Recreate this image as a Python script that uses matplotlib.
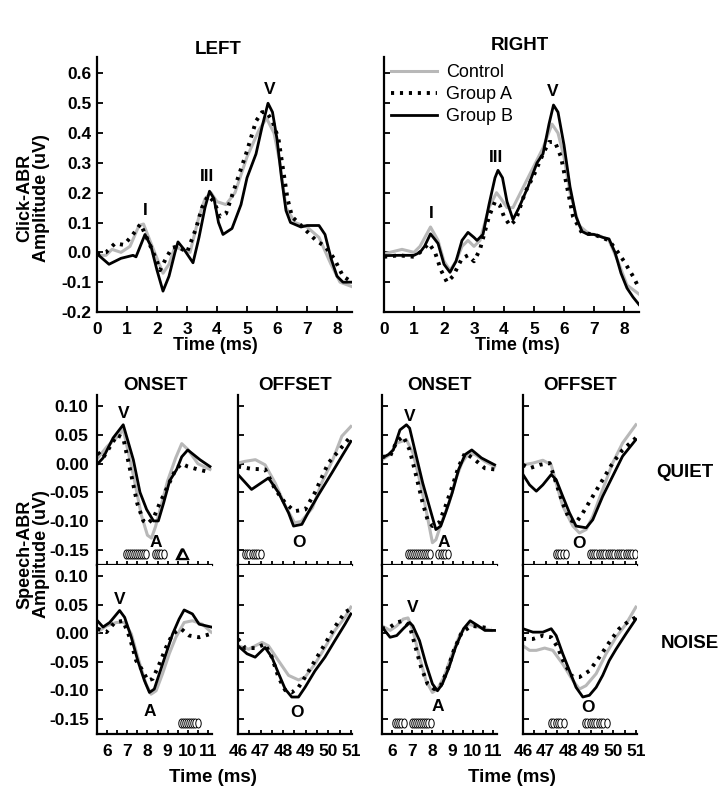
import numpy as np
import matplotlib.pyplot as plt
from matplotlib.path import Path
from matplotlib.transforms import Affine2D

plt.rcParams['font.family'] = ['Liberation Sans', 'DejaVu Sans']
plt.rcParams['font.weight'] = 'bold'
plt.rcParams['axes.labelweight'] = 'bold'
plt.rcParams['axes.linewidth'] = 1.6

W, H = 727, 797
GRAY = '#b8b8b8'

# ---- Click-ABR, left ear ----
cl_ctrl_t = [0, .3, .5, .8, 1.1, 1.4, 1.55, 1.8, 2.0, 2.2, 2.4, 2.6, 2.8, 3.1, 3.4, 3.6, 3.8, 4.0, 4.3,
             4.6, 5.0, 5.4, 5.65, 5.9, 6.1, 6.3, 6.6, 7.0, 7.4, 7.8, 8.1, 8.5]
cl_ctrl_v = [-.01, -.01, .01, 0, .02, .09, .095, .03, -.02, -.07, -.04, .02, .01, 0, .12, .18, .2, .17, .16,
             .2, .32, .41, .45, .4, .3, .15, .1, .085, .05, -.04, -.1, -.115]
cl_a_t = [0, .3, .6, .9, 1.2, 1.45, 1.7, 2.0, 2.1, 2.3, 2.5, 2.7, 3.0, 3.3, 3.5, 3.7, 3.9, 4.1, 4.3, 4.6,
          5.0, 5.3, 5.5, 5.65, 5.85, 6.05, 6.2, 6.35, 6.5, 6.8, 7.0, 7.3, 7.6, 7.9, 8.2, 8.5]
cl_a_v = [-.005, 0, .03, .025, .06, .095, .04, -.03, -.06, -.02, .015, .02, 0, .08, .15, .19, .17, .12, .13, .22,
          .34, .44, .47, .47, .44, .38, .28, .18, .12, .09, .07, .04, .02, -.02, -.08, -.10]
cl_b_t = [0, .4, .8, 1.2, 1.3, 1.6, 1.8, 2.0, 2.2, 2.4, 2.6, 2.7, 2.9, 3.2, 3.4, 3.6, 3.75, 3.9, 4.05, 4.2,
          4.5, 4.8, 5.0, 5.3, 5.5, 5.7, 5.85, 6.0, 6.15, 6.3, 6.45, 6.8, 7.0, 7.4, 7.6, 7.8, 8.0, 8.2, 8.5]
cl_b_v = [-.005, -.04, -.02, -.01, -.015, .06, .02, -.06, -.13, -.08, 0, .035, .01, -.035, .05, .15, .205, .18,
          .10, .06, .08, .16, .25, .33, .42, .50, .47, .38, .25, .14, .10, .085, .09, .09, .06, -.02, -.08, -.10, -.10]

# ---- Click-ABR, right ear ----
cr_ctrl_t = [0, .6, 1.0, 1.2, 1.55, 1.8, 2.0, 2.2, 2.4, 2.6, 2.8, 3.0, 3.2, 3.5, 3.75, 3.9, 4.1, 4.3, 4.6,
             5.0, 5.3, 5.6, 5.8, 6.0, 6.2, 6.5, 6.8, 7.2, 7.5, 7.8, 8.1, 8.5]
cr_ctrl_v = [-.005, .01, 0, .02, .085, .04, -.03, -.06, -.03, .02, .04, .02, .04, .15, .2, .18, .15, .15, .21,
             .29, .35, .43, .4, .32, .2, .09, .065, .055, .04, -.03, -.11, -.14]
cr_a_t = [0, .5, 1.0, 1.2, 1.5, 1.7, 1.9, 2.1, 2.3, 2.6, 2.8, 3.0, 3.2, 3.5, 3.7, 3.85, 4.0, 4.2, 4.4, 4.7,
          5.0, 5.3, 5.5, 5.7, 5.9, 6.1, 6.3, 6.6, 7.0, 7.5, 7.8, 8.0, 8.3, 8.5]
cr_a_v = [-.015, -.01, -.015, 0, .03, 0, -.06, -.10, -.08, -.02, -.01, -.03, .01, .12, .17, .16, .12, .09, .11, .20,
          .26, .33, .37, .37, .32, .22, .12, .065, .06, .04, 0, -.03, -.08, -.12]
cr_b_t = [0, .5, 1.0, 1.2, 1.35, 1.55, 1.8, 2.0, 2.2, 2.4, 2.6, 2.8, 3.0, 3.1, 3.3, 3.5, 3.7, 3.8, 3.95, 4.1,
          4.3, 4.5, 4.8, 5.1, 5.3, 5.5, 5.65, 5.8, 6.0, 6.2, 6.4, 6.6, 6.8, 7.0, 7.3, 7.5, 7.7, 7.9, 8.1, 8.3, 8.5]
cr_b_v = [-.011, -.01, -.01, 0, .02, .062, .03, -.04, -.067, -.03, .04, .067, .05, .04, .06, .16, .25, .275, .25, .17,
          .11, .15, .22, .30, .33, .43, .494, .47, .36, .22, .12, .07, .06, .06, .05, .045, 0, -.07, -.12, -.15, -.175]

# ---- Speech-ABR, quiet ----
ql_on_ctrl_t = [5.54, 6.0, 6.6, 6.8, 7.3, 7.7, 8.0, 8.2, 8.4, 8.7, 9.0, 9.4, 9.7, 10.0, 10.5, 11.1]
ql_on_ctrl_v = [.01, .03, .05, .06, -.02, -.09, -.125, -.13, -.11, -.07, -.03, .01, .035, .025, 0, -.01]
ql_on_a_t = [5.54, 5.8, 6.5, 6.8, 7.2, 7.5, 7.8, 8.0, 8.3, 8.6, 9.0, 9.4, 9.7, 10.0, 10.5, 11.1]
ql_on_a_v = [.02, .01, .05, .045, -.02, -.07, -.10, -.105, -.095, -.07, -.04, -.01, 0, -.005, -.01, -.015]
ql_on_b_t = [5.54, 5.8, 6.3, 6.8, 7.3, 7.63, 7.96, 8.3, 8.54, 8.8, 9.1, 9.45, 9.7, 10.0, 10.6, 11.1]
ql_on_b_v = [0, .01, .045, .068, .007, -.05, -.08, -.10, -.10, -.069, -.03, -.01, .012, .024, .007, -.005]

ql_off_ctrl_t = [46, 46.3, 46.77, 47.2, 47.65, 48.1, 48.5, 48.8, 49.3, 49.7, 50.2, 50.6, 51.0]
ql_off_ctrl_v = [.001, .004, .007, -.002, -.034, -.074, -.103, -.101, -.077, -.034, .007, .048, .065]
ql_off_a_t = [46, 46.6, 47.2, 47.65, 48.1, 48.5, 48.98, 49.4, 50.0, 50.45, 51.0]
ql_off_a_v = [-.005, -.009, -.01, -.045, -.069, -.083, -.08, -.051, .001, .022, .048]
ql_off_b_t = [46, 46.6, 47.35, 47.8, 48.24, 48.46, 48.83, 49.1, 49.57, 50.16, 50.6, 51.0]
ql_off_b_v = [-.019, -.045, -.025, -.051, -.086, -.109, -.106, -.086, -.054, -.016, .013, .039]

qr_on_ctrl_t = [5.5, 5.9, 6.23, 6.71, 7.03, 7.36, 7.68, 8.0, 8.17, 8.5, 8.82, 9.14, 9.46, 9.79, 10.11, 10.6, 11.08]
qr_on_ctrl_v = [.007, .016, .036, .042, .019, -.028, -.08, -.138, -.133, -.098, -.069, -.028, .001, .019, .016, .004, -.005]
qr_on_a_t = [5.5, 5.9, 6.23, 6.55, 6.87, 7.2, 7.52, 7.76, 8.0, 8.33, 8.65, 8.98, 9.3, 9.62, 10.1, 10.6, 11.08]
qr_on_a_v = [.012, .013, .039, .048, .024, -.022, -.069, -.098, -.109, -.103, -.074, -.04, -.005, .019, .007, -.008, -.01]
qr_on_b_t = [5.5, 5.82, 6.06, 6.39, 6.71, 6.87, 7.2, 7.52, 7.84, 8.17, 8.41, 8.65, 8.98, 9.3, 9.62, 9.95, 10.43, 11.08]
qr_on_b_v = [.01, .016, .024, .059, .068, .062, .013, -.034, -.074, -.115, -.109, -.086, -.051, -.01, .016, .024, .01, -.002]

qr_off_ctrl_t = [46, 46.44, 46.88, 47.25, 47.47, 47.76, 48.21, 48.5, 48.8, 49.09, 49.53, 49.97, 50.41, 51.0]
qr_off_ctrl_v = [-.002, .001, .006, -.002, -.034, -.074, -.109, -.121, -.115, -.092, -.045, .001, .036, .068]
qr_off_a_t = [46, 46.29, 46.74, 47.18, 47.47, 47.76, 48.06, 48.35, 48.65, 49.09, 49.53, 49.97, 50.41, 51.0]
qr_off_a_v = [-.002, -.008, -.002, .001, -.034, -.069, -.098, -.103, -.086, -.057, -.028, .001, .024, .045]
qr_off_b_t = [46, 46.29, 46.59, 46.88, 47.25, 47.47, 47.76, 48.06, 48.35, 48.8, 49.09, 49.53, 49.97, 50.41, 51.0]
qr_off_b_v = [-.019, -.037, -.048, -.037, -.019, -.028, -.057, -.086, -.109, -.112, -.098, -.057, -.022, .013, .042]

# ---- Speech-ABR, noise ----
nl_on_ctrl_t = [5.52, 5.97, 6.46, 6.87, 7.2, 7.52, 7.93, 8.18, 8.43, 8.75, 9.08, 9.41, 9.82, 10.23, 10.72, 11.16]
nl_on_ctrl_v = [.002, .013, .019, .019, -.001, -.042, -.089, -.107, -.101, -.071, -.036, -.007, .019, .022, .016, .002]
nl_on_a_t = [5.52, 5.97, 6.38, 6.79, 7.12, 7.44, 7.77, 8.02, 8.26, 8.59, 8.92, 9.25, 9.66, 10.07, 10.56, 11.05]
nl_on_a_v = [.008, .002, .019, .022, -.007, -.048, -.066, -.083, -.08, -.054, -.025, -.001, .008, -.004, -.007, -.002]
nl_on_b_t = [5.52, 5.8, 6.13, 6.62, 6.87, 7.2, 7.52, 7.85, 8.1, 8.34, 8.59, 8.92, 9.25, 9.57, 9.82, 10.23, 10.56, 11.16]
nl_on_b_v = [.022, .011, .019, .04, .028, -.007, -.048, -.083, -.104, -.098, -.071, -.036, -.001, .025, .041, .034, .016, .011]

nl_off_ctrl_t = [46, 46.47, 47.06, 47.35, 47.79, 48.24, 48.68, 48.97, 49.41, 49.85, 50.29, 50.74, 51.0]
nl_off_ctrl_v = [-.022, -.028, -.016, -.022, -.048, -.074, -.082, -.077, -.054, -.025, .005, .028, .046]
nl_off_a_t = [46, 46.32, 46.76, 47.2, 47.5, 47.79, 48.09, 48.38, 48.68, 48.97, 49.41, 49.85, 50.29, 50.74, 51.0]
nl_off_a_v = [-.01, -.026, -.026, -.019, -.042, -.077, -.10, -.104, -.095, -.077, -.048, -.019, .011, .037, .043]
nl_off_b_t = [46, 46.4, 46.76, 47.2, 47.5, 47.8, 48.09, 48.38, 48.68, 48.97, 49.41, 49.85, 50.29, 50.74, 51.0]
nl_off_b_v = [-.022, -.036, -.042, -.025, -.042, -.071, -.098, -.112, -.112, -.095, -.066, -.042, -.013, .016, .034]

nr_on_ctrl_t = [5.5, 5.9, 6.23, 6.55, 6.79, 7.03, 7.36, 7.68, 8.0, 8.25, 8.57, 8.98, 9.38, 9.79, 10.27, 10.92]
nr_on_ctrl_v = [.013, .005, .013, .025, .027, .005, -.042, -.083, -.104, -.098, -.077, -.036, -.001, .016, .011, .005]
nr_on_a_t = [5.5, 5.9, 6.23, 6.55, 6.87, 7.12, 7.44, 7.76, 8.09, 8.41, 8.73, 9.06, 9.46, 9.95, 10.43, 10.92]
nr_on_a_v = [.008, .011, .019, .022, .013, -.019, -.06, -.089, -.098, -.092, -.066, -.03, .002, .013, .011, .008]
nr_on_b_t = [5.5, 5.9, 6.23, 6.55, 6.87, 7.03, 7.36, 7.68, 8.0, 8.25, 8.49, 8.82, 9.14, 9.54, 9.87, 10.27, 10.6, 11.08]
nr_on_b_v = [.011, -.007, -.004, .008, .019, .013, -.013, -.054, -.089, -.101, -.089, -.06, -.025, .008, .022, .013, .005, .005]

nr_off_ctrl_t = [46, 46.29, 46.59, 46.96, 47.32, 47.76, 48.21, 48.5, 48.79, 49.24, 49.68, 50.12, 50.56, 51.0]
nr_off_ctrl_v = [-.022, -.03, -.03, -.026, -.03, -.054, -.083, -.098, -.092, -.071, -.036, -.007, .016, .046]
nr_off_a_t = [46, 46.44, 46.88, 47.25, 47.54, 47.84, 48.21, 48.5, 48.94, 49.38, 49.82, 50.26, 50.71, 51.0]
nr_off_a_v = [-.01, -.01, -.004, -.007, -.025, -.054, -.077, -.077, -.066, -.042, -.016, .008, .022, .028]
nr_off_b_t = [46, 46.44, 46.88, 47.25, 47.47, 47.76, 48.06, 48.35, 48.65, 48.94, 49.24, 49.53, 49.82, 50.12, 50.56, 51.0]
nr_off_b_v = [.008, .002, .002, .008, -.004, -.036, -.066, -.095, -.112, -.109, -.095, -.074, -.048, -.028, -.001, .025]

# significance marks (ms)
ql_on_sig = [6.95, 7.05, 7.15, 7.25, 7.35, 7.45, 7.55, 7.65, 7.75, 7.85, 7.95, 8.35, 8.45, 8.55, 8.65, 8.8]
ql_on_tri = [9.7, 9.78]
ql_off_sig = [46.3, 46.4, 46.5, 46.6, 46.7, 46.8, 46.9, 47.0]
qr_on_sig = [6.8, 6.9, 7.0, 7.1, 7.2, 7.3, 7.4, 7.5, 7.6, 7.7, 7.8, 7.9, 8.3, 8.4, 8.5, 8.6, 8.75]
qr_off_sig = [47.45, 47.55, 47.65, 47.75, 47.9, 48.95, 49.05, 49.15, 49.25, 49.35, 49.45, 49.55, 49.65, 49.75,
              49.85, 49.95, 50.05, 50.15, 50.25, 50.35, 50.45, 50.55, 50.65, 50.75, 50.85, 50.95]
nl_on_sig = [9.65, 9.75, 9.85, 9.95, 10.05, 10.15, 10.25, 10.35, 10.5]
nr_on_sig = [6.15, 6.25, 6.35, 6.45, 6.6, 7.0, 7.1, 7.2, 7.3, 7.4, 7.5, 7.6, 7.7, 7.8, 7.95]
nr_off_sig = [47.25, 47.35, 47.45, 47.55, 47.65, 47.8, 48.75, 48.85, 48.95, 49.05, 49.15, 49.25, 49.35, 49.45, 49.55, 49.7]

ELLIPSE = Path.unit_circle().transformed(Affine2D().scale(0.6, 1.0))


def add_ax(l, t, r, b):
    ax = fig.add_axes([l / W, 1 - b / H, (r - l) / W, (b - t) / H])
    ax.spines['top'].set_visible(False)
    ax.spines['right'].set_visible(False)
    ax.tick_params(direction='in', length=4, width=1.3, labelsize=12.5)
    ax.tick_params(axis='x', pad=7)
    ax.tick_params(axis='y', pad=6)
    return ax


def draw3(ax, ct, cv, at, av, bt, bv):
    ax.plot(ct, cv, color=GRAY, lw=2.2, label='Control')
    ax.plot(at, av, color='black', lw=2.8, ls=(0, (0.8, 1.5)), label='Group A')
    ax.plot(bt, bv, color='black', lw=2.0, label='Group B')


def sig(ax, xs, y):
    ax.plot(xs, [y] * len(xs), ls='none', marker=ELLIPSE, ms=6.5, mfc='white', mec='black', mew=0.7)


fig = plt.figure(figsize=(W / 100, H / 100), dpi=100)

# click panels
axL = add_ax(97, 57, 352, 312)
axR = add_ax(384, 57, 639, 312)
draw3(axL, cl_ctrl_t, cl_ctrl_v, cl_a_t, cl_a_v, cl_b_t, cl_b_v)
draw3(axR, cr_ctrl_t, cr_ctrl_v, cr_a_t, cr_a_v, cr_b_t, cr_b_v)
for ax in (axL, axR):
    ax.set_xlim(0, 8.5)
    ax.set_ylim(-0.2, 0.655)
    ax.set_xticks(range(0, 9))
    ax.set_yticks(np.arange(-0.2, 0.61, 0.1))
axL.set_yticklabels(['%.1f' % v for v in np.arange(-0.2, 0.61, 0.1)])
axL.tick_params(axis='y', pad=4)
axR.set_yticklabels([])
axR.legend(loc='upper left', bbox_to_anchor=(0.0, 1.0), frameon=False, handlelength=2.55,
           prop={'weight': 'normal', 'size': 13}, labelspacing=0.28, handletextpad=0.5, borderaxespad=0)
for ax, lab in ((axL, [('I', 1.62, 0.14), ('III', 3.66, 0.255), ('V', 5.77, 0.547)]),
                (axR, [('I', 1.56, 0.131), ('III', 3.74, 0.318), ('V', 5.61, 0.539)])):
    for s, x, y in lab:
        ax.text(x, y, s, ha='center', va='center', fontsize=12.5)

fig.text(218 / W, 1 - 50 / H, 'LEFT', ha='center', va='center', fontsize=13.5)
fig.text(520 / W, 1 - 45 / H, 'RIGHT', ha='center', va='center', fontsize=13.5)
fig.text(215 / W, 1 - 345 / H, 'Time (ms)', ha='center', va='center', fontsize=13)
fig.text(517 / W, 1 - 345 / H, 'Time (ms)', ha='center', va='center', fontsize=13)
fig.text(33 / W, 1 - 198 / H, 'Click-ABR\nAmplitude (uV)', ha='center', va='center', rotation=90,
         fontsize=13, linespacing=1.0)

# speech panels
cols = [(97, 212), (238, 352), (382, 497), (523, 637)]
rows = [(395, 565), (565, 734)]
speech = [
    [(ql_on_ctrl_t, ql_on_ctrl_v, ql_on_a_t, ql_on_a_v, ql_on_b_t, ql_on_b_v),
     (ql_off_ctrl_t, ql_off_ctrl_v, ql_off_a_t, ql_off_a_v, ql_off_b_t, ql_off_b_v),
     (qr_on_ctrl_t, qr_on_ctrl_v, qr_on_a_t, qr_on_a_v, qr_on_b_t, qr_on_b_v),
     (qr_off_ctrl_t, qr_off_ctrl_v, qr_off_a_t, qr_off_a_v, qr_off_b_t, qr_off_b_v)],
    [(nl_on_ctrl_t, nl_on_ctrl_v, nl_on_a_t, nl_on_a_v, nl_on_b_t, nl_on_b_v),
     (nl_off_ctrl_t, nl_off_ctrl_v, nl_off_a_t, nl_off_a_v, nl_off_b_t, nl_off_b_v),
     (nr_on_ctrl_t, nr_on_ctrl_v, nr_on_a_t, nr_on_a_v, nr_on_b_t, nr_on_b_v),
     (nr_off_ctrl_t, nr_off_ctrl_v, nr_off_a_t, nr_off_a_v, nr_off_b_t, nr_off_b_v)],
]
peaks = [
    [[('V', 6.8, 0.088), ('A', 8.4, -0.137)], [('O', 48.7, -0.137)],
     [('V', 6.87, 0.083), ('A', 8.57, -0.137)], [('O', 48.5, -0.14)]],
    [[('V', 6.62, 0.06), ('A', 8.1, -0.137)], [('O', 48.6, -0.14)],
     [('V', 7.0, 0.045), ('A', 8.25, -0.128)], [('O', 48.87, -0.131)]],
]
sigs = [[ql_on_sig, ql_off_sig, qr_on_sig, qr_off_sig], [nl_on_sig, [], nr_on_sig, nr_off_sig]]
yt = [0.10, 0.05, 0.0, -0.05, -0.10, -0.15]
on_ticks = np.arange(5.5, 11.01, 0.5)
off_ticks = np.arange(46, 51.01, 0.5)

axes = [[None] * 4, [None] * 4]
for r, (t, b) in enumerate(rows):
    for c, (l, rr) in enumerate(cols):
        ax = add_ax(l, t, rr, b)
        axes[r][c] = ax
        draw3(ax, *speech[r][c])
        ax.set_ylim(-0.177, 0.12)
        ax.set_yticks(yt)
        if c in (0, 2):
            ax.set_xlim(5.5, 11.2)
            ticks = on_ticks
        else:
            ax.set_xlim(46, 51.05)
            ticks = off_ticks
        ax.set_xticks(ticks)
        ax.tick_params(axis='x', length=3)
        if r == 1:
            ax.set_xticklabels(['%d' % v if v == int(v) else '' for v in ticks], fontsize=12.5)
        else:
            ax.set_xticklabels([])
        if c == 0:
            ax.set_yticklabels(['%.2f' % v for v in yt])
        else:
            ax.set_yticklabels([])
        for s, x, y in peaks[r][c]:
            ax.text(x, y, s, ha='center', va='center', fontsize=12.5)
        if sigs[r][c]:
            sig(ax, sigs[r][c], -0.157)

axes[0][0].plot(ql_on_tri, [-0.157] * len(ql_on_tri), ls='none', marker='^', ms=6.5, mfc='white',
                mec='black', mew=1.6)

for x, s in ((155, 'ONSET'), (295, 'OFFSET'), (440, 'ONSET'), (580, 'OFFSET')):
    fig.text(x / W, 1 - 385 / H, s, ha='center', va='center', fontsize=13.5)
fig.text(685 / W, 1 - 473 / H, 'QUIET', ha='center', va='center', fontsize=13.5)
fig.text(690 / W, 1 - 643 / H, 'NOISE', ha='center', va='center', fontsize=13.5)
fig.text(213 / W, 1 - 777 / H, 'Time (ms)', ha='center', va='center', fontsize=13.5)
fig.text(512 / W, 1 - 777 / H, 'Time (ms)', ha='center', va='center', fontsize=13.5)
fig.text(33 / W, 1 - 554 / H, 'Speech-ABR\nAmplitude (uV)', ha='center', va='center', rotation=90,
         fontsize=13, linespacing=1.0)

fig.savefig('out.png', dpi=100)
